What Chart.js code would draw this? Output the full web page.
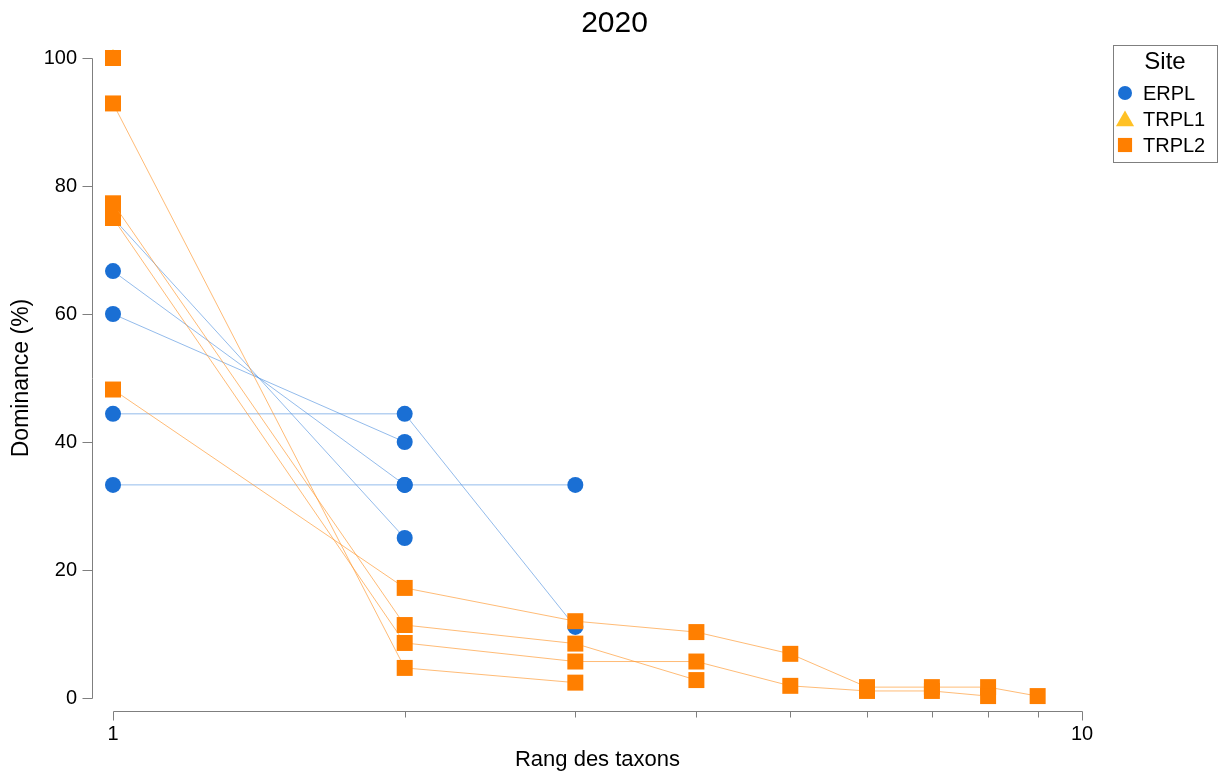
<!DOCTYPE html>
<html lang="fr">
<head>
<meta charset="utf-8">
<title>Dominance 2020</title>
<script src="https://cdn.jsdelivr.net/npm/chart.js@4.4.1/dist/chart.umd.min.js"></script>
<style>
  html, body { margin: 0; padding: 0; background: #fff; }
  #wrap { width: 1221px; height: 781px; }
</style>
</head>
<body>
<div id="wrap"><canvas id="rangChart"></canvas></div>
<script>
/* Courbes rang-dominance par site, année 2020 */

// rangs des taxons (axe log) et graduations de l'axe Y
var rangs = [1, 2, 3, 4, 5, 6, 7, 8, 9, 10];
var ticksY = [0, 20, 40, 60, 80, 100];

// dominance (%) de chaque échantillon, du rang 1 au dernier rang
var erpl = [
  [75.0, 25.0],
  [66.7, 33.3],
  [60.0, 40.0],
  [44.4, 44.4, 11.1],
  [33.3, 33.3, 33.3]
];
var trpl1 = [
  [100]
];
var trpl2 = [
  [100],
  [92.9, 4.7, 2.4],
  [77.3, 11.4, 8.5, 2.8],
  [75.0, 8.6, 5.7, 5.7, 1.9, 1.1, 1.1, 0.3],
  [48.2, 17.2, 12.0, 10.3, 6.9, 1.7, 1.7, 1.7, 0.3]
];

var sites = ['ERPL', 'TRPL1', 'TRPL2'];
var styles = {
  ERPL:  { point: '#1a6fd4', line: 'rgba(80,145,222,0.62)', shape: 'circle', r: 8, lr: 7 },
  TRPL1: { point: '#ffc125', line: 'rgba(255,200,60,0.6)', shape: 'triangle', r: 9, lr: 10.5 },
  TRPL2: { point: '#ff7f00', line: 'rgba(255,150,45,0.65)', shape: 'rect', r: 11.3, lr: 10 }
};

var FONT = '"Liberation Sans", Arial, sans-serif';

function serie(site, valeurs) {
  var st = styles[site];
  return {
    label: site,
    data: valeurs.map(function (v, i) { return { x: rangs[i], y: v }; }),
    borderColor: st.line,
    borderWidth: 1,
    backgroundColor: st.point,
    pointStyle: st.shape,
    pointRadius: st.r,
    pointBackgroundColor: st.point,
    pointBorderWidth: 0,
    tension: 0,
    clip: false
  };
}

// le premier dataset est dessiné au-dessus : TRPL2, puis TRPL1, puis ERPL
var datasets = []
  .concat(trpl2.map(function (v) { return serie('TRPL2', v); }))
  .concat(trpl1.map(function (v) { return serie('TRPL1', v); }))
  .concat(erpl.map(function (v) { return serie('ERPL', v); }));

function crisp(v) { return Math.round(v) + 0.5; }

/* -------------------- Axes décalés (style base R) -------------------- */
var axesPlugin = {
  id: 'axesDecales',
  afterDraw: function (chart) {
    var ctx = chart.ctx;
    var sx = chart.scales.x, sy = chart.scales.y;
    var ax = crisp(chart.chartArea.left - 21);
    var ay = crisp(chart.chartArea.bottom + 13);

    ctx.save();
    ctx.strokeStyle = '#7f7f7f';
    ctx.lineWidth = 1;
    ctx.beginPath();
    // axe Y
    ctx.moveTo(ax, crisp(sy.getPixelForValue(0)));
    ctx.lineTo(ax, crisp(sy.getPixelForValue(100)));
    ticksY.forEach(function (v) {
      var p = crisp(sy.getPixelForValue(v));
      ctx.moveTo(ax - 10, p);
      ctx.lineTo(ax, p);
    });
    // axe X
    ctx.moveTo(crisp(sx.getPixelForValue(1)), ay);
    ctx.lineTo(crisp(sx.getPixelForValue(10)), ay);
    rangs.forEach(function (r) {
      var p = crisp(sx.getPixelForValue(r));
      var long = (r === 1 || r === 10) ? 9 : 6;
      ctx.moveTo(p, ay);
      ctx.lineTo(p, ay + long);
    });
    ctx.stroke();
    ctx.restore();
  }
};

/* -------------------- Légende encadrée -------------------- */
var legendePlugin = {
  id: 'legendeSite',
  afterDraw: function (chart) {
    var ctx = chart.ctx;
    var left = chart.chartArea.right + 31;
    var top = 45;

    ctx.save();
    ctx.strokeStyle = '#7f7f7f';
    ctx.lineWidth = 1;
    ctx.strokeRect(crisp(left), crisp(top), 104, 117);

    ctx.fillStyle = '#000';
    ctx.textBaseline = 'middle';
    ctx.textAlign = 'center';
    ctx.font = '24px ' + FONT;
    ctx.fillText('Site', left + 52, top + 17);

    ctx.font = '20px ' + FONT;
    ctx.textAlign = 'left';
    sites.forEach(function (site, i) {
      var st = styles[site];
      var y = top + 48 + i * 26;
      ctx.fillStyle = st.point;
      Chart.helpers.drawPoint(ctx, { pointStyle: st.shape, radius: st.lr, rotation: 0, borderWidth: 0 }, left + 12, st.shape === 'triangle' ? y + 2 : y);
      ctx.fillStyle = '#000';
      ctx.fillText(site, left + 30, y + 1);
    });
    ctx.restore();
  }
};

var ctx = document.getElementById('rangChart');
new Chart(ctx, {
  type: 'line',
  data: { datasets: datasets },
  options: {
    responsive: true,
    maintainAspectRatio: false,
    animation: false,
    layout: { padding: { left: 8, right: 0, top: 0, bottom: 0 } },
    plugins: {
      legend: { display: false },
      tooltip: { enabled: false },
      title: {
        display: true,
        text: '2020',
        color: '#000',
        font: { family: FONT, size: 30, weight: 'normal' },
        padding: { top: 6, bottom: 16 }
      }
    },
    scales: {
      x: {
        type: 'logarithmic',
        min: 1,
        max: 10,
        grid: { display: false, drawTicks: false },
        border: { display: false },
        afterBuildTicks: function (scale) {
          scale.ticks = rangs.map(function (r) { return { value: r }; });
        },
        afterFit: function (scale) { scale.height = 83; },
        ticks: {
          autoSkip: false,
          maxRotation: 0,
          padding: 24,
          color: '#000',
          font: { family: FONT, size: 20 },
          callback: function (v) { return (v === 1 || v === 10) ? String(v) : ''; }
        },
        title: {
          display: true,
          text: 'Rang des taxons',
          color: '#000',
          font: { family: FONT, size: 22 },
          padding: { top: 0, bottom: 8 }
        }
      },
      y: {
        min: 0,
        max: 100,
        grid: { display: false, drawTicks: false },
        border: { display: false },
        afterFit: function (scale) { scale.width = 105; },
        ticks: {
          stepSize: 20,
          padding: 36,
          color: '#000',
          font: { family: FONT, size: 20 }
        },
        title: {
          display: true,
          text: 'Dominance (%)',
          color: '#000',
          font: { family: FONT, size: 23 },
          padding: { top: 0, bottom: 0 }
        }
      },
      // marge de droite réservée à la légende
      yMarge: {
        position: 'right',
        min: 0,
        max: 100,
        grid: { display: false, drawTicks: false },
        border: { display: false },
        ticks: { display: false },
        afterFit: function (scale) { scale.width = 139; }
      }
    }
  },
  plugins: [axesPlugin, legendePlugin]
});
</script>
</body>
</html>
